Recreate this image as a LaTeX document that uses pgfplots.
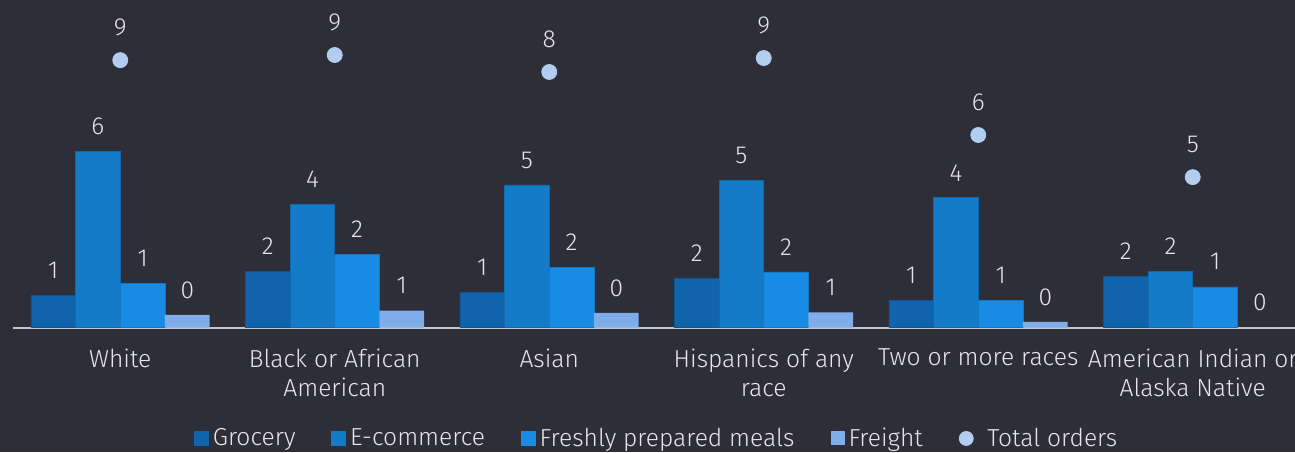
\documentclass[border=0pt]{standalone}
\usepackage{pgfplots}
\pgfplotsset{compat=1.18}
\usepackage{pgfplotstable}
\usepackage{fontspec}
\setmainfont{Fira Sans}[UprightFont={* Light}]

\definecolor{bg}{HTML}{2E2E38}
\definecolor{grocery}{HTML}{1064AC}
\definecolor{ecom}{HTML}{147BC9}
\definecolor{fresh}{HTML}{188CE5}
\definecolor{freight}{HTML}{7FADEB}
\definecolor{total}{HTML}{B3CDF1}
\definecolor{txt}{HTML}{E6E6EA}
\definecolor{axisgray}{HTML}{C4C4CD}

% Orders by segment and race/ethnicity
\pgfplotstableread{
x grocery ecom fresh freight total
0 1.06 5.81 1.45 0.42 8.83
1 1.85 4.08 2.41 0.56 9.00
2 1.17 4.71 2.00 0.49 8.44
3 1.64 4.85 1.84 0.51 8.90
4 0.91 4.29 0.91 0.19 6.36
5 1.70 1.86 1.35 0.00 4.97
}\orders

\begin{document}
\begin{tikzpicture}
\fill[bg] (-6.5pt,-62.15pt) rectangle (641pt,163.85pt);
\begin{axis}[
  at={(0pt,0pt)}, anchor=south west,
  scale only axis, width=643.5pt, height=163.85pt,
  xmin=-0.5, xmax=5.5, ymin=0, ymax=10.815,
  clip=false,
  axis x line*=bottom, axis y line=none,
  x axis line style={draw=axisgray, line width=1pt},
  xtick={0,...,5}, major tick length=0pt,
  xticklabels={White, Black or African\\American, Asian, Hispanics of any\\race, Two or more races, American Indian or\\Alaska Native},
  xticklabel style={align=center, text=txt, font=\fontsize{12.3}{14.5}\selectfont, anchor=north, yshift=-7pt},
  /pgf/number format/assume math mode=true,
  nodes near coords={\pgfmathprintnumber[fixed,precision=0,assume math mode=true]{\pgfplotspointmeta}},
  every node near coord/.append style={anchor=center, yshift=12.5pt, text=txt, font=\fontsize{12.3}{14}\selectfont},
  legend columns=5,
  legend style={at={(0.501,-0.338)}, anchor=center, draw=none, fill=none, text=txt,
    font=\fontsize{12.3}{14}\selectfont,
    /tikz/every even column/.append style={column sep=16pt}},
  legend cell align=left,
]
\addplot[ybar, bar width=22.35pt, bar shift=-33.525pt, fill=grocery, draw=grocery!85!black, line width=0.3pt,
  every node near coord/.append style={xshift=-33.525pt},
  legend image code/.code={\fill[grocery] (0pt,-3.5pt) rectangle (7pt,3.5pt);}]
  table[x=x, y=grocery] {\orders};
\addlegendentry{Grocery}
\addplot[ybar, bar width=22.35pt, bar shift=-11.175pt, fill=ecom, draw=ecom!85!black, line width=0.3pt,
  every node near coord/.append style={xshift=-11.175pt},
  legend image code/.code={\fill[ecom] (0pt,-3.5pt) rectangle (7pt,3.5pt);}]
  table[x=x, y=ecom] {\orders};
\addlegendentry{E-commerce}
\addplot[ybar, bar width=22.35pt, bar shift=11.175pt, fill=fresh, draw=fresh!85!black, line width=0.3pt,
  every node near coord/.append style={xshift=11.175pt},
  legend image code/.code={\fill[fresh] (0pt,-3.5pt) rectangle (7pt,3.5pt);}]
  table[x=x, y=fresh] {\orders};
\addlegendentry{Freshly prepared meals}
\addplot[ybar, bar width=22.35pt, bar shift=33.525pt, fill=freight, draw=none,
  every node near coord/.append style={xshift=33.525pt},
  legend image code/.code={\fill[freight] (0pt,-3.5pt) rectangle (7pt,3.5pt);}]
  table[x=x, y=freight] {\orders};
\addlegendentry{Freight}
\addplot[only marks, mark=*, mark size=3.75pt, mark options={fill=total, draw=total},
  every node near coord/.append style={yshift=4pt},
  legend image code/.code={\path[draw=none, fill=none] (-2pt,0pt) -- (10pt,0pt); \fill[total] (1.5pt,0pt) circle (3.5pt);}]
  table[x=x, y=total] {\orders};
\addlegendentry{Total orders}
\end{axis}
\pgfresetboundingbox
\useasboundingbox (-6.5pt,-62.15pt) rectangle (641pt,163.85pt);
\end{tikzpicture}
\end{document}
